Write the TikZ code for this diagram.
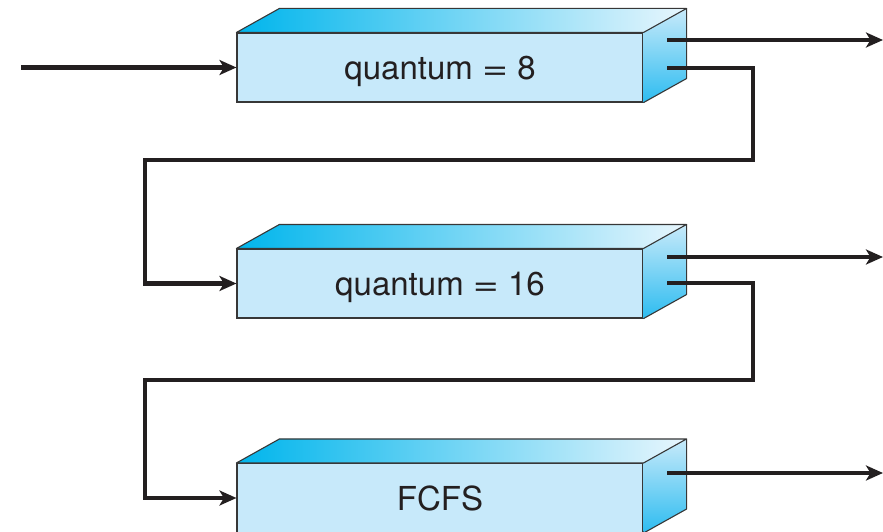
\documentclass[tikz,border=0pt]{standalone}
\usepackage{fontspec}
\usepackage{graphicx}
\setmainfont{TeX Gyre Heros}
\usetikzlibrary{arrows.meta,calc}

\definecolor{frontblue}{RGB}{199,233,250}
\definecolor{topdeep}{RGB}{0,181,236}
\definecolor{toppale}{RGB}{232,246,253}
\definecolor{sidepale}{RGB}{200,234,250}
\definecolor{sidedeep}{RGB}{45,188,240}
\definecolor{edgegray}{RGB}{55,55,55}
\definecolor{inkline}{RGB}{35,31,32}

% a slightly wider equals sign
\newcommand{\wideeq}{\scalebox{1.35}[1]{=}}

\tikzset{
  queuebox/.style={draw=edgegray, line width=1.1pt, fill=frontblue,
    minimum width=406pt, minimum height=69pt, inner sep=0pt,
    text depth=0pt, font=\fontsize{33pt}{40pt}\selectfont, text=inkline},
  faceedge/.style={draw=edgegray, line width=1.1pt, line join=round},
  flow/.style={draw=inkline, line width=4.2pt, line join=miter,
    -{Stealth[length=17pt,width=15pt,inset=4.5pt]}},
}

\begin{document}
\begin{tikzpicture}[x=1pt,y=-1pt]
  \useasboundingbox (0,0) rectangle (883,532);

  % the three ready queues (front faces)
  \node[queuebox] (q1) at (440,67.5)  {quantum \wideeq{} 8};
  \node[queuebox] (q2) at (440,283.5) {quantum \wideeq{} 16};
  \node[queuebox] (q3) at (440,498)   {FCFS};

  % top and right faces of each queue block
  \foreach \n in {q1,q2,q3} {
    \shade[left color=topdeep, right color=toppale]
      (\n.north west) -- ++(43,-24) -- ($(\n.north east)+(43,-24)$)
      -- (\n.north east) -- cycle;
    \shade[top color=sidepale, bottom color=sidedeep]
      (\n.north east) -- ++(43,-24) -- ($(\n.south east)+(43,-24)$)
      -- (\n.south east) -- cycle;
    \draw[faceedge]
      (\n.north west) -- ++(43,-24) -- ($(\n.north east)+(43,-24)$)
      -- (\n.north east) -- cycle;
    \draw[faceedge]
      ($(\n.north east)+(43,-24)$) -- ($(\n.south east)+(43,-24)$)
      -- (\n.south east);
  }

  % connector end points
  \coordinate (src)  at (21,67.5);
  \coordinate (q1o)  at (667,40);
  \coordinate (q1x)  at (883,40);
  \coordinate (q1f)  at (667,68);
  \coordinate (q2o)  at (667,257);
  \coordinate (q2x)  at (883,257);
  \coordinate (q2f)  at (667,283);
  \coordinate (q3o)  at (667,473);
  \coordinate (q3x)  at (883,473);

  % arrivals and completions
  \draw[flow] (src) -- (q1.west);
  \draw[flow] (q1o) -- (q1x);
  \draw[flow] (q2o) -- (q2x);
  \draw[flow] (q3o) -- (q3x);

  % demotion to the next lower queue
  \draw[flow] (q1f) -- (753,68) -- (753,160) -- (145,160) |- (q2.west);
  \draw[flow] (q2f) -- (753,283) -- (753,380) -- (145,380) |- (q3.west);
\end{tikzpicture}
\end{document}
